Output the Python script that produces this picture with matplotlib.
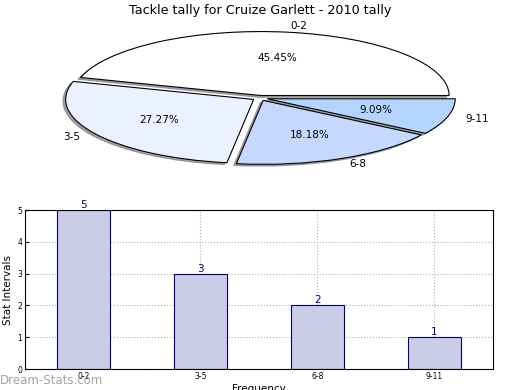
import matplotlib
matplotlib.use("Agg")
import matplotlib.pyplot as plt

# data
categories = ["0-2", "3-5", "6-8", "9-11"]
counts = [5, 3, 2, 1]
slice_colors = ["#ffffff", "#ebf1ff", "#c5d8ff", "#b3d5ff"]

fig = plt.figure(figsize=(5.2, 3.9), dpi=100)

# ── pie (squashed, exploded, shadowed) ──
ax1 = fig.add_axes([0.048, 0.5436, 0.904, 0.41])
ax1.pie(counts, labels=categories, colors=slice_colors, explode=[0.04] * 4,
        autopct="%.2f%%", startangle=0,
        shadow=dict(ox=-0.01, oy=-0.02, color="#888888", alpha=0.8),
        wedgeprops=dict(edgecolor="black", linewidth=0.8),
        textprops=dict(fontsize=7.5))
ax1.set_aspect("auto")
ax1.set_xlim(-1.25, 1.25)
ax1.set_ylim(-1.25, 1.25)
fig.text(0.5, 0.974, "Tackle tally for Cruize Garlett - 2010 tally",
         ha="center", va="center", fontsize=9.2)

# ── bars ──
ax2 = fig.add_axes([0.048, 0.0538, 0.9, 0.4077])
x = list(range(len(categories)))
ax2.bar(x, counts, width=0.45, color="#ccccE6", edgecolor="navy", linewidth=0.8,
        zorder=2)
for xi, c in zip(x, counts):
    ax2.text(xi, c, str(c), ha="center", va="bottom", color="navy", fontsize=7.5)
ax2.set_xlim(-0.5, 3.5)
ax2.set_ylim(0, 5)
ax2.set_xticks(x)
ax2.set_xticklabels(categories)
ax2.set_yticks(range(6))
ax2.tick_params(labelsize=5.5, direction="in", length=3, pad=2)
ax2.grid(True, linestyle=":", color="#b0b0b0", linewidth=0.8, zorder=0)
ax2.set_ylabel("Stat Intervals", fontsize=7.5, labelpad=3)
ax2.set_xlabel("Frequency", fontsize=7.5, labelpad=2)

fig.text(0.0, 0.025, "Dream-Stats.com", color="#999999", fontsize=8.5,
         ha="left", va="center", alpha=0.9)

fig.savefig("out.png", dpi=100)
